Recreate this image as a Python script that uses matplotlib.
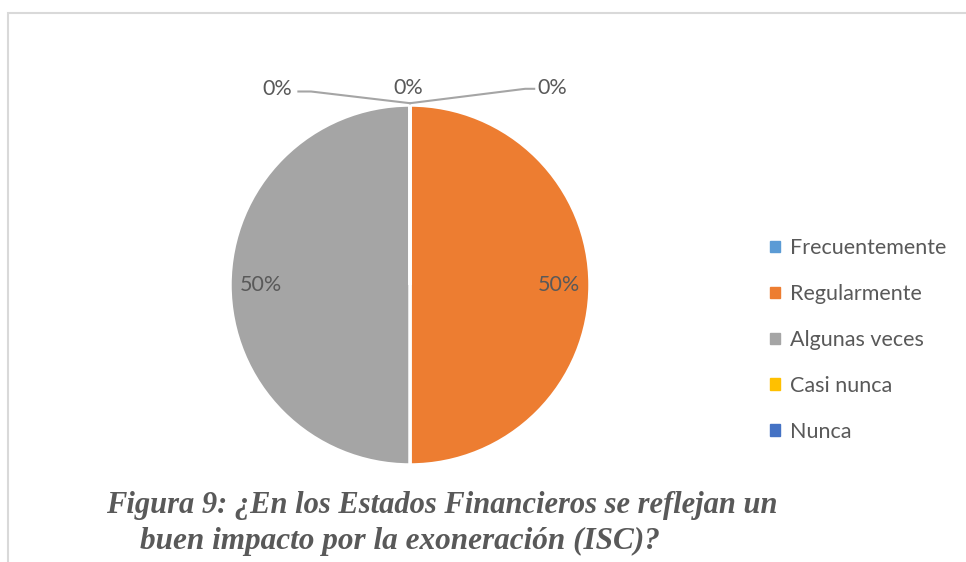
import matplotlib
matplotlib.use("Agg")
import matplotlib.pyplot as plt
from matplotlib.patches import Rectangle
import numpy as np

categories = ["Frecuentemente", "Regularmente", "Algunas veces", "Casi nunca", "Nunca"]
values = [0, 50, 50, 0, 0]
colors = ["#5B9BD5", "#ED7D31", "#A5A5A5", "#FFC000", "#4472C4"]
title_lines = ["Figura 9: ¿En los Estados Financieros se reflejan un",
               "buen impacto por la exoneración (ISC)?"]

W, H = 966, 562
fig = plt.figure(figsize=(W / 100, H / 100), dpi=100)
fig.patch.set_facecolor("white")

# chart border (light gray)
fig.add_artist(Rectangle((7.5 / W, -0.1), 1.2, (H - 13) / H + 0.1, transform=fig.transFigure,
                         fill=False, edgecolor="#D9D9D9", linewidth=1.5))

cx, cy, r = 410, 285, 180
ax = fig.add_axes([(cx - r) / W, (H - cy - r) / H, 2 * r / W, 2 * r / H])
wedges, _ = ax.pie(values, colors=colors, startangle=90, counterclock=False,
                   wedgeprops=dict(edgecolor="white", linewidth=2.5))
ax.set_xlim(-1, 1)
ax.set_ylim(-1, 1)
ax.set_aspect("equal")
ax.axis("off")

txt_color = "#595959"
lab_font = "Lato"
fs = 15.5
total = sum(values)
pcts = [f"{v / total * 100:.0f}%" for v in values]

# 50% labels inside
for w, p, v in zip(wedges, pcts, values):
    if v > 0:
        ang = np.deg2rad((w.theta1 + w.theta2) / 2)
        ax.text(0.83 * np.cos(ang), 0.83 * np.sin(ang), p, ha="center", va="center",
                fontsize=fs, color=txt_color, family=lab_font)

# 0% labels with leader lines
zero_idx = [i for i, v in enumerate(values) if v == 0]
label_pos = {0: (0.79, 1.095), 3: (-0.74, 1.09), 4: (-0.01, 1.095)}
line_pts = {0: [(0.0, 1.01), (0.64, 1.09), (0.69, 1.09)],
            3: [(0.0, 1.01), (-0.55, 1.075), (-0.62, 1.075)],
            4: [(0.0, 1.01), (0.0, 1.01)]}
for i in zero_idx:
    x, y = label_pos[i]
    ax.text(x, y, pcts[i], ha="center", va="center", fontsize=fs,
            color=txt_color, family=lab_font, clip_on=False)
    pts = np.array(line_pts[i])
    ax.plot(pts[:, 0], pts[:, 1], color="#A5A5A5", lw=1.5, clip_on=False)

# legend
handles = [plt.Rectangle((0, 0), 1, 1, color=c) for c in colors]
leg = fig.legend(handles, categories, loc="center left", bbox_to_anchor=(751 / W, 1 - 340 / H),
                 frameon=False, handlelength=0.45, handleheight=0.45, handletextpad=0.45,
                 labelspacing=1.2, prop=dict(family=lab_font, size=15.5))
for t in leg.get_texts():
    t.set_color(txt_color)

fig.text(442 / W, 1 - 506 / H, title_lines[0], ha="center", va="center",
         family="Liberation Serif", weight="bold", style="italic", fontsize=22, color="#595959")
fig.text(400 / W, 1 - 541 / H, title_lines[1], ha="center", va="center",
         family="Liberation Serif", weight="bold", style="italic", fontsize=22.5, color="#595959")

fig.savefig("out.png", dpi=100, facecolor="white")
